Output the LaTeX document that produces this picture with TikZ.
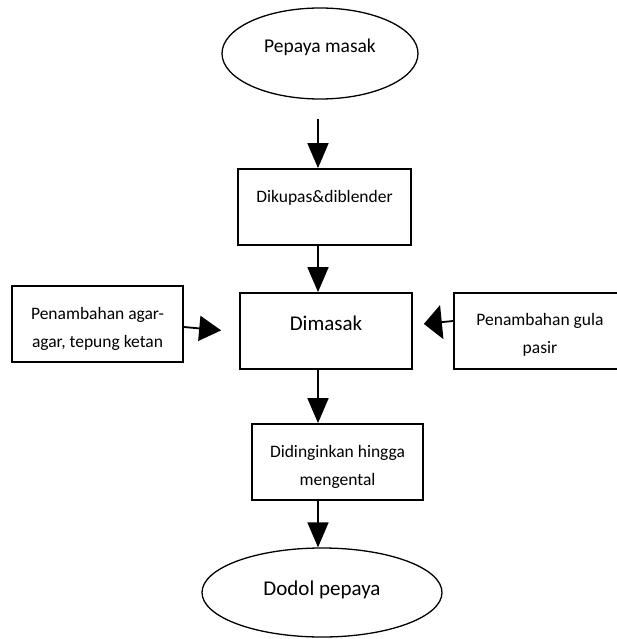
\documentclass[tikz,border=0pt]{standalone}
\usepackage{fontspec}
\setmainfont{Carlito}
\usetikzlibrary{arrows.meta,shapes.geometric}
\begin{document}
\begin{tikzpicture}[x=1pt,y=-1pt,
  procbox/.style={draw,line width=1.8pt,inner sep=0pt,align=flush center,
    font=\fontsize{17.5}{28.5}\selectfont},
  term/.style={draw,ellipse,line width=1.3pt,inner sep=0pt},
  varr/.style={line width=1.8pt,-{Triangle[length=25pt,width=21pt]}},
  larr/.style={line width=1.8pt,-{Triangle[length=22pt,width=25pt]}},
  rarr/.style={line width=1.8pt,-{Triangle[length=18pt,width=34pt]}}]
\useasboundingbox (0,0) rectangle (616,639);
% terminals
\node[term,minimum width=196pt,minimum height=91pt,text height=14pt,text depth=15pt,
  font=\fontsize{19.5}{22}\selectfont] (top) at (320,53.5) {Pepaya masak};
\node[term,minimum width=240pt,minimum height=89pt,text height=15pt,text depth=10pt,
  font=\fontsize{21}{24}\selectfont] (bot) at (322,592.5) {Dodol pepaya};
% process boxes
\node[procbox,text width=173pt,text height=33pt,text depth=43pt] (dik) at (324.5,207) {Dikupas\&diblender};
\node[procbox,text width=172pt,text height=37pt,text depth=39pt,
  font=\fontsize{21}{24}\selectfont] (dim) at (326,331) {Dimasak};
\node[procbox,text width=171pt,text height=33pt,text depth=43pt] (left) at (97.5,324)
  {Penambahan agar-\\agar, tepung ketan};
\node[procbox,text width=172pt,text height=32pt,text depth=44pt] (rgt) at (540,331)
  {Penambahan gula\\pasir};
\node[procbox,text width=171pt,text height=33pt,text depth=43pt] (din) at (337.5,462)
  {Didinginkan hingga\\mengental};
% connectors
\draw[varr] ([xshift=-2pt,yshift=-19pt]top.south) -- ([xshift=-6.5pt]dik.north);
\draw[varr] ([xshift=-6.5pt]dik.south) -- ([xshift=-8pt]dim.north);
\draw[varr] ([xshift=-8pt]dim.south) -- ([xshift=-19.5pt]din.north);
\draw[varr] ([xshift=-19.5pt]din.south) -- ([xshift=-4pt]bot.north);
\draw[larr,shorten >=18pt] ([yshift=-3pt]left.east) -- ([yshift=-1pt]dim.west);
\draw[rarr,shorten >=11pt] ([yshift=10pt]rgt.west) -- ([yshift=6pt]dim.east);
\end{tikzpicture}
\end{document}
